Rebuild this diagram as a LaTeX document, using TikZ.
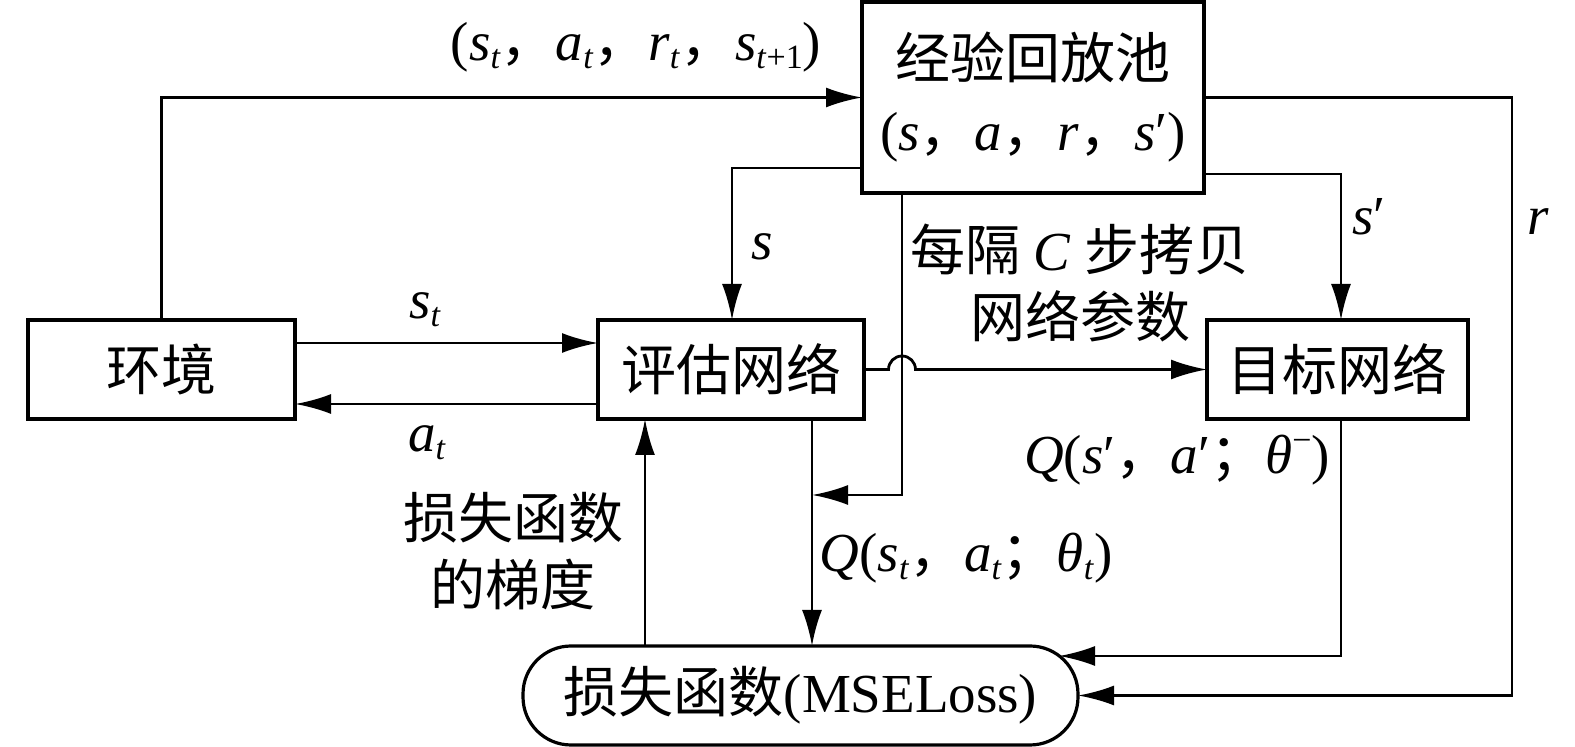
\documentclass[tikz,border=0pt]{standalone}
\usepackage{fontspec}
\setmainfont{Liberation Serif}
\newfontfamily\cjk{Noto Sans CJK SC}
\usetikzlibrary{arrows.meta}
\newcommand{\sbt}{\raisebox{-4pt}{\fontsize{17}{17}\selectfont\textit{t}}}
\newcommand{\sbtp}{\raisebox{-4pt}{\fontsize{17}{17}\selectfont\textit{t}+1}}
\newcommand{\supm}{\raisebox{11pt}{\fontsize{17}{17}\selectfont −}}
\newcommand{\cm}{{\cjk ，}}
\newcommand{\sm}{{\cjk ；}}
\newcommand{\pr}{{\upshape ′}}
\tikzset{
  blk/.style={draw, line width=1.6pt, inner sep=0pt, outer sep=0pt, font=\fontsize{27.5}{36}\selectfont},
  arr/.style={line width=1.4pt, -{Latex[length=18pt,width=10pt]}},
  lbl/.style={inner sep=0pt, font=\fontsize{27.5}{33.5}\selectfont, align=center},
}
\begin{document}
\begin{tikzpicture}[x=0.5pt,y=-0.5pt]
\useasboundingbox (0,0) rectangle (1575,747);
% boxes
\node[blk, minimum width=133.5pt, minimum height=49.5pt] (env) at (161.5,369.5) {{\cjk 环境}};
\node[blk, minimum width=133pt, minimum height=49.5pt] (eval) at (731,369.5) {{\cjk 评估网络}};
\node[blk, minimum width=130.5pt, minimum height=49.5pt] (tgt) at (1337.5,369.5) {{\cjk 目标网络}};
\node[blk, minimum width=171pt, minimum height=95.5pt, align=center] (rep) at (1033,97.5)
  {{\cjk 经验回放池}\\(\textit{s}\cm\textit{a}\cm\textit{r}\cm\textit{s}\pr)};
\node[blk, rounded corners=24pt, minimum width=277.5pt, minimum height=49.5pt] (loss) at (800.5,695.5)
  {{\cjk 损失函数}(MSELoss)};
% helper coordinates
\coordinate (y168) at (0,168);
\coordinate (y174) at (0,174);
\coordinate (y343) at (0,343);
\coordinate (y404) at (0,404);
\coordinate (xs) at (732,0);
\coordinate (xsp) at (1341,0);
\coordinate (xr) at (1512,400);
\coordinate (xq) at (812,0);
\coordinate (xg) at (645,0);
\coordinate (xc) at (902,0);
\coordinate (cpend) at (812,495);
\coordinate (tgin) at (1059,656);
\coordinate (hopA) at (888.5,369.5);
% connectors
\draw[arr] (env.north) |- (rep.west);
\draw[arr] (rep.west |- y168) -| (eval.north -| xs);
\draw[arr] (rep.east |- y174) -| (tgt.north -| xsp);
\draw[arr] (rep.east) -| (xr) |- (loss.east);
\draw[arr] (tgt.south -| xsp) |- (tgin);
\draw[arr] (env.east |- y343) -- (eval.west |- y343);
\draw[arr] (eval.west |- y404) -- (env.east |- y404);
\draw[arr] (eval.south -| xq) -- (loss.north -| xq);
\draw[arr] (loss.north -| xg) -- (eval.south -| xg);
\draw[arr] (rep.south -| xc) |- (cpend);
\draw[arr] (eval.east) -- (hopA) arc[start angle=180, end angle=360, radius=13.5] -- (tgt.west);
% labels
\node[lbl] (l1) at (636,47) {(\textit{s}\sbt\cm\textit{a}\sbt\cm\textit{r}\sbt\cm\textit{s}\sbtp)};
\node[lbl] (l2) at (762,247) {\textit{s}};
\node[lbl] (l3) at (1369,217) {\textit{s}\pr};
\node[lbl] (l4) at (1538,222) {\textit{r}};
\node[lbl] (l5) at (425,310) {\textit{s}\sbt};
\node[lbl] (l6) at (427,443) {\textit{a}\sbt};
\node[lbl] (l7) at (1080,283) {{\cjk 每隔} \textit{C} {\cjk 步拷贝}\\{\cjk 网络参数}};
\node[lbl] (l8) at (1177,460) {\textit{Q}(\textit{s}\pr\cm\textit{a}\pr\sm\textit{θ}\supm)};
\node[lbl] (l9) at (966,558) {\textit{Q}(\textit{s}\sbt\cm\textit{a}\sbt\sm\textit{θ}\sbt)};
\node[lbl] (l10) at (513,551) {{\cjk 损失函数}\\{\cjk 的梯度}};
\end{tikzpicture}
\end{document}
